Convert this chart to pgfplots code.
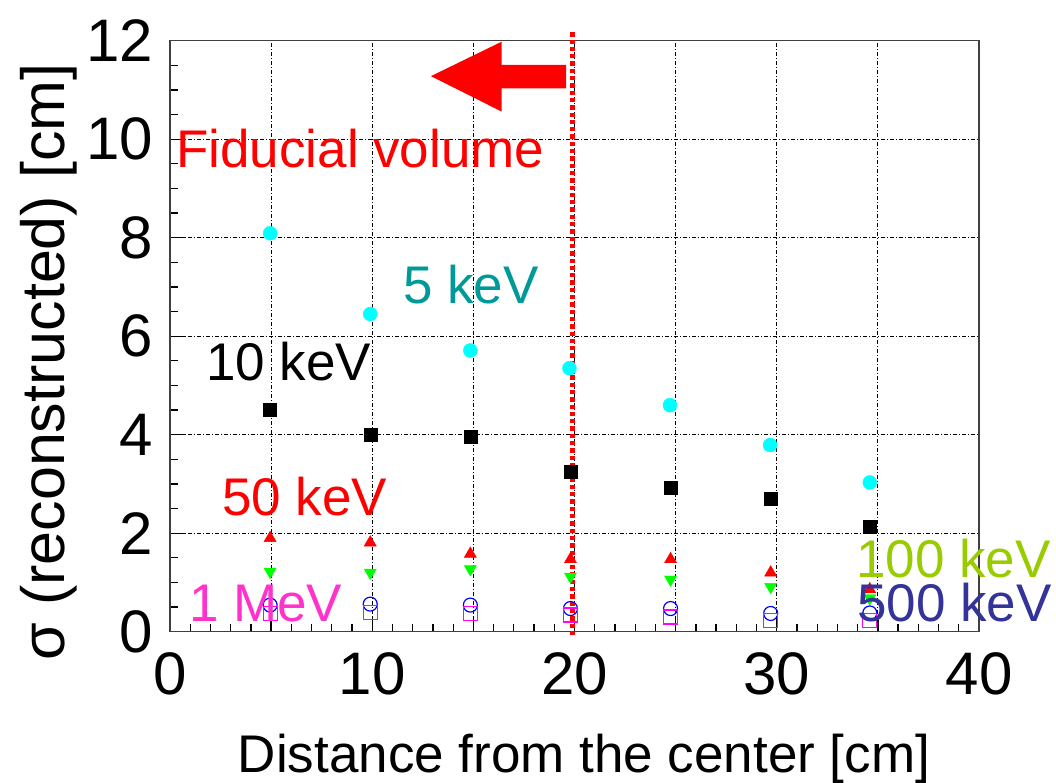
\documentclass[border=0pt]{standalone}
\usepackage{fontspec}
\setmainfont{Liberation Sans}
\usepackage{pgfplots}
\pgfplotsset{compat=1.18}

\definecolor{cyanmk}{RGB}{0,255,255}
\definecolor{tealtxt}{RGB}{0,153,153}
\definecolor{greenmk}{RGB}{0,255,0}
\definecolor{limetxt}{RGB}{153,204,0}
\definecolor{bluemk}{RGB}{0,0,255}
\definecolor{navytxt}{RGB}{51,51,153}
\definecolor{magmk}{RGB}{255,0,255}
\definecolor{pinktxt}{RGB}{255,51,204}

\newcommand{\annfont}{\fontsize{53}{53}\selectfont}

\begin{document}
\begin{tikzpicture}
% page frame: axis box is 809 x 591, placed 170 from the left and 41 from the top
\useasboundingbox (-170pt,-151.3pt) rectangle (886pt,631.7pt);

\begin{axis}[
  at={(0,0)}, anchor=south west,
  scale only axis, width=809pt, height=591pt,
  xmin=0, xmax=40, ymin=0, ymax=12,
  xtick={0,5,...,40}, xticklabels={0,,10,,20,,30,,40},
  ytick={0,2,...,12}, yticklabels={\raisebox{-14pt}{0},2,4,6,8,10,12},
  minor x tick num=4, minor y tick num=3,
  tick align=inside, tick pos=left,
  major tick length=15pt, minor tick length=8pt,
  every tick/.style={black, line width=1.3pt},
  axis line style={black!75, line width=1.6pt},
  grid=major,
  major grid style={black, line width=0.9pt, dash pattern=on 4pt off 2pt on 1pt off 2pt},
  /pgf/number format/assume math mode=true,
  ticklabel style={font=\fontsize{60}{60}\selectfont},
  xticklabel style={anchor=north, inner sep=0pt, yshift=-21pt},
  yticklabel style={anchor=east, inner sep=0pt, xshift=-17pt},
  clip=false,
]

% 5 keV
\addplot[only marks, mark=*, mark size=7pt, color=cyanmk] coordinates {
  (4.95,8.09) (9.9,6.45) (14.85,5.71) (19.75,5.35) (24.72,4.60) (29.67,3.79) (34.6,3.03)};
% 10 keV
\addplot[only marks, mark=square*, mark size=6.5pt, color=black] coordinates {
  (4.95,4.50) (9.9,3.99) (14.85,3.96) (19.8,3.25) (24.75,2.92) (29.7,2.71) (34.6,2.13)};
% 50 keV
\addplot[only marks, mark=triangle*, mark size=7pt, color=red] coordinates {
  (4.95,1.90) (9.9,1.81) (14.85,1.58) (19.8,1.47) (24.75,1.47) (29.7,1.20) (34.6,0.86)};
% 100 keV
\addplot[only marks, mark=triangle*, mark size=7pt, color=greenmk, mark options={rotate=180}] coordinates {
  (4.95,1.22) (9.9,1.20) (14.85,1.27) (19.8,1.12) (24.75,1.06) (29.7,0.91) (34.6,0.68)};
% 500 keV
\addplot[only marks, mark=o, mark size=7pt, color=bluemk, mark options={line width=1.2pt}] coordinates {
  (4.95,0.54) (9.9,0.56) (14.85,0.54) (19.8,0.47) (24.75,0.47) (29.7,0.37) (34.6,0.38)};
% 1 MeV
\addplot[only marks, mark=square, mark size=7pt, color=magmk, mark options={line width=1.2pt}] coordinates {
  (4.95,0.37) (9.9,0.39) (14.85,0.37) (19.8,0.34) (24.75,0.30) (29.7,0.22) (34.6,0.22)};

% fiducial volume boundary and arrow
\draw[red, line width=4.5pt, dash pattern=on 4.3pt off 3pt]
  (axis cs:19.91,-0.07) -- (axis cs:19.91,12.18);
\fill[red] (axis cs:12.90,11.28) -- (axis cs:16.40,11.98) -- (axis cs:16.40,11.51)
  -- (axis cs:19.58,11.51) -- (axis cs:19.58,11.03) -- (axis cs:16.40,11.03)
  -- (axis cs:16.40,10.56) -- cycle;
\end{axis}

% axis titles
\node[anchor=base, font=\fontsize{53}{53}\selectfont] at (414pt,-140.3pt)
  {Distance from the center [cm]};
\node[anchor=base, rotate=90, font=\fontsize{61}{61}\selectfont] at (-105pt,269.7pt)
  {σ (reconstructed) [cm]};

% annotations
\node[anchor=base west, inner sep=0pt, font=\annfont, text=red] at (6pt,463.7pt) {Fiducial volume};
\node[anchor=base west, inner sep=0pt, font=\annfont, text=tealtxt] at (233pt,327.7pt) {5 keV};
\node[anchor=base west, inner sep=0pt, font=\annfont, text=black] at (36pt,250.7pt) {10 keV};
\node[anchor=base west, inner sep=0pt, font=\annfont, text=red] at (52pt,115.7pt) {50 keV};
\node[anchor=base west, inner sep=0pt, font=\annfont, text=pinktxt] at (19pt,9.7pt) {1 MeV};
\node[anchor=base west, inner sep=0pt, font=\annfont, text=limetxt] at (686pt,54pt) {100 keV};
\node[anchor=base west, inner sep=0pt, font=\annfont, text=navytxt] at (687pt,9.7pt) {500 keV};
\end{tikzpicture}
\end{document}
